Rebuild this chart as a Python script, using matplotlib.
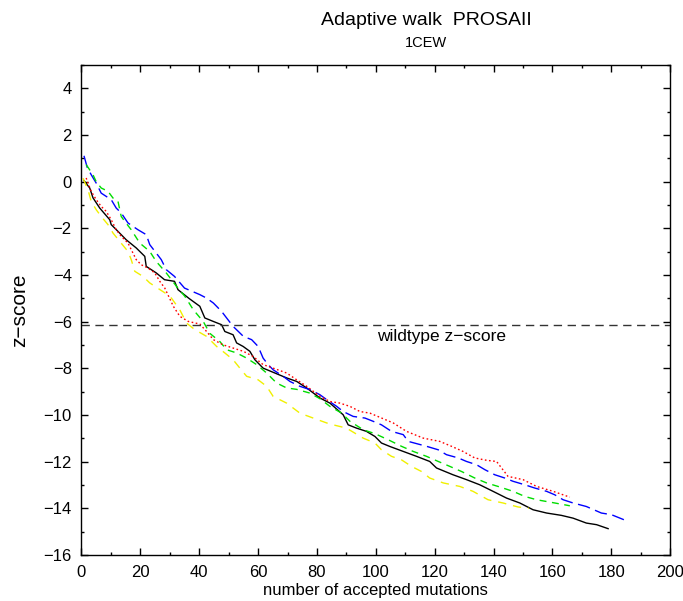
import matplotlib
matplotlib.use("Agg")
import matplotlib.pyplot as plt
from matplotlib.ticker import MultipleLocator

plt.rcParams['font.family'] = ['Liberation Sans', 'DejaVu Sans']

# ---- data ----
black_x = [0.8, 2.8, 3.9, 6.2, 9.6, 10.1, 12.4, 15.2, 18.6, 21.5, 22, 25.4, 28.2, 31.6, 32.8,
           36.5, 40.2, 41.9, 44.8, 47.6, 48.7, 51.5, 52.7, 54.9, 57.2, 58.9, 61.7, 65.7, 69.7,
           73.1, 76.5, 81, 84.4, 88.9, 90.6, 93.4, 96.8, 99.7, 101.9, 104.8, 109.3, 113.8,
           118.3, 120.6, 126.2, 130.8, 135.3, 139.8, 144.4, 148.9, 153.4, 158, 163, 167, 171.5, 175, 178.9]
black_y = [0.05, -0.27, -0.69, -1.13, -1.63, -1.84, -2.13, -2.49, -2.84, -3.2, -3.63, -3.91,
           -4.2, -4.27, -4.63, -5.0, -5.34, -5.84, -5.99, -6.13, -6.42, -6.56, -6.91, -7.06,
           -7.27, -7.63, -7.99, -8.2, -8.41, -8.56, -8.84, -9.27, -9.49, -9.99, -10.42, -10.56,
           -10.7, -10.92, -11.2, -11.35, -11.56, -11.77, -11.99, -12.27, -12.56, -12.77,
           -12.99, -13.27, -13.56, -13.77, -14.06, -14.2, -14.3, -14.42, -14.63, -14.7, -14.87]

blue_x = [0.85, 2, 3.3, 5, 6.7, 10.1, 11.8, 13.5, 15.8, 19.2, 22, 23.2, 25.4, 27.1, 28.8, 31.6,
          35, 40.2, 42.5, 44.8, 47.6, 49.3, 51.5, 55, 57.8, 60, 61.7, 63.4, 65.1, 68.5, 70.8,
          74.2, 77.6, 81, 83.3, 86.7, 88.9, 92.3, 96.3, 99.1, 101.9, 105.3, 109.3, 111,
          117.2, 121.2, 124, 128, 130.8, 134.2, 137, 140.4, 143.8, 146.6, 150.6, 154, 158,
          160.8, 163.6, 167, 171.5, 176.6, 180, 185.7]
blue_y = [1.11, 0.59, 0.3, -0.06, -0.49, -0.77, -1.13, -1.34, -1.77, -2.06, -2.27, -2.7, -3.06,
          -3.34, -3.77, -4.06, -4.56, -4.84, -4.99, -5.2, -5.56, -5.84, -6.2, -6.63, -6.77,
          -7.06, -7.56, -7.84, -8.06, -8.34, -8.56, -8.77, -8.91, -9.13, -9.34, -9.63, -9.85,
          -10.06, -10.13, -10.27, -10.42, -10.7, -10.84, -11.13, -11.34, -11.49, -11.7,
          -11.84, -11.99, -12.13, -12.34, -12.56, -12.7, -12.84, -12.99, -13.13, -13.27,
          -13.42, -13.63, -13.77, -13.92, -14.2, -14.27, -14.56]

green_x = [1.6, 3.9, 5, 6.7, 9, 10.7, 12.4, 13.5, 14.7, 16.9, 19.8, 23.2, 25.4, 28.8, 32.3,
           35.1, 38, 41.4, 43.6, 47, 49.3, 52.7, 56.1, 59.5, 62.9, 66.3, 69.7, 73.1, 77.6,
           81, 84.4, 88.4, 91.2, 95.7, 99.7, 104.2, 108.7, 112.7, 117.2, 121.2, 125.1,
           129.1, 133.6, 137.6, 141.5, 146.6, 150.6, 154.6, 160.8, 165.9]
green_y = [0.73, 0.3, 0.0, -0.27, -0.41, -0.7, -0.84, -1.49, -1.7, -2.06, -2.63, -2.99, -3.42,
           -3.91, -4.49, -4.91, -5.49, -6.0, -6.5, -6.85, -7.2, -7.34, -7.56, -7.84, -8.2,
           -8.63, -8.84, -8.9, -9.06, -9.3, -9.63, -9.92, -10.27, -10.63, -10.8, -11.06,
           -11.34, -11.56, -11.77, -11.99, -12.2, -12.42, -12.7, -12.91, -13.06, -13.27,
           -13.49, -13.63, -13.77, -13.89]

red_x = [1.6, 2.2, 3.3, 5, 6.7, 8.4, 10.1, 11.8, 13.5, 15.8, 16.9, 18.6, 20.3, 22.6, 24.9,
         26.6, 28.3, 31.2, 33.4, 36.3, 40.2, 42.5, 44.8, 48.1, 51.5, 55, 58.3, 61.7, 65.1,
         69.7, 73.1, 76.5, 81, 84.4, 87.8, 91.2, 94.6, 98, 101.4, 105.9, 110.4, 116.1,
         121.7, 125.7, 129.6, 133.6, 137.6, 141, 142.7, 144.9, 150, 154.6, 160.2, 165.9]
red_y = [0.16, -0.06, -0.41, -0.77, -1.06, -1.27, -1.63, -2.06, -2.34, -2.63, -2.91, -3.34,
         -3.56, -3.7, -3.91, -4.27, -4.56, -5.34, -5.77, -5.99, -6.1, -6.42, -6.77, -6.99,
         -7.13, -7.27, -7.49, -7.84, -7.99, -8.2, -8.49, -8.77, -9.2, -9.42, -9.49, -9.63,
         -9.85, -9.92, -10.1, -10.34, -10.7, -10.99, -11.13, -11.34, -11.56, -11.84,
         -11.94, -11.99, -12.27, -12.63, -12.77, -13.06, -13.27, -13.52]

yellow_x = [0.5, 2.2, 3.3, 5, 6.7, 9, 10.7, 13, 15.8, 16.9, 18.1, 20.9, 23.2, 26.7, 30.1,
            33.4, 35.7, 38.5, 42.5, 45.9, 48.7, 51.5, 53.8, 56.1, 60, 62.9, 65.1, 69.7,
            74.2, 78.7, 83.3, 85.5, 90, 95.7, 99.7, 101.9, 105.3, 108.7, 112.1, 115.5,
            118.3, 122.9, 128.5, 133, 138.1, 143.2, 148.3, 152]
yellow_y = [0.15, -0.34, -0.84, -1.2, -1.49, -1.84, -2.2, -2.56, -2.99, -3.34, -3.84, -4.06,
            -4.34, -4.63, -4.91, -5.49, -6.06, -6.34, -6.63, -7.06, -7.34, -7.63, -7.99,
            -8.34, -8.49, -8.77, -9.2, -9.49, -9.92, -10.13, -10.34, -10.42, -10.56,
            -10.99, -11.2, -11.49, -11.77, -11.92, -12.2, -12.42, -12.7, -12.91, -13.06,
            -13.27, -13.63, -13.77, -13.94, -14.0]

wildtype_z = -6.15

# ---- figure ----
fig = plt.figure(figsize=(6.83, 6.01), dpi=100)
ax = fig.add_axes([0.1193, 0.0765, 0.862, 0.8153])

ax.plot(black_x, black_y, color='black', lw=1.0, ls='-')
ax.plot(blue_x, blue_y, color='#0000ff', lw=1.0, ls=(0, (9, 4)))
ax.plot(green_x, green_y, color='#00dd00', lw=1.0, ls=(0, (5, 4)))
ax.plot(red_x, red_y, color='#ff0000', lw=1.0, ls=(0, (1.2, 1.8)))
ax.plot(yellow_x, yellow_y, color='#f0f000', lw=1.0, ls=(0, (6, 5)))

ax.axhline(wildtype_z, color='#333333', lw=1.0, ls=(0, (6, 4)))
ax.text(100.5, -6.65, 'wildtype z\u2212score', fontsize=12.5, va='center', ha='left')

ax.set_xlim(0, 200)
ax.set_ylim(-16, 5)
ax.xaxis.set_major_locator(MultipleLocator(20))
ax.xaxis.set_minor_locator(MultipleLocator(10))
ax.yaxis.set_major_locator(MultipleLocator(2))
ax.yaxis.set_minor_locator(MultipleLocator(1))
ax.tick_params(which='both', direction='in', top=True, right=True, labelsize=12)
ax.tick_params(which='major', length=5, width=1, pad=7)
ax.tick_params(which='minor', length=2.5, width=1)
for s in ax.spines.values():
    s.set_linewidth(1.0)

ax.set_xlabel('number of accepted mutations', fontsize=12, labelpad=2)
ax.set_ylabel('z\u2212score', fontsize=15, labelpad=10)

fig.text(0.624, 0.966, 'Adaptive walk  PROSAII', fontsize=14, ha='center', va='center')
fig.text(0.624, 0.929, '1CEW', fontsize=10.5, ha='center', va='center')

fig.savefig('out.png', dpi=100)
